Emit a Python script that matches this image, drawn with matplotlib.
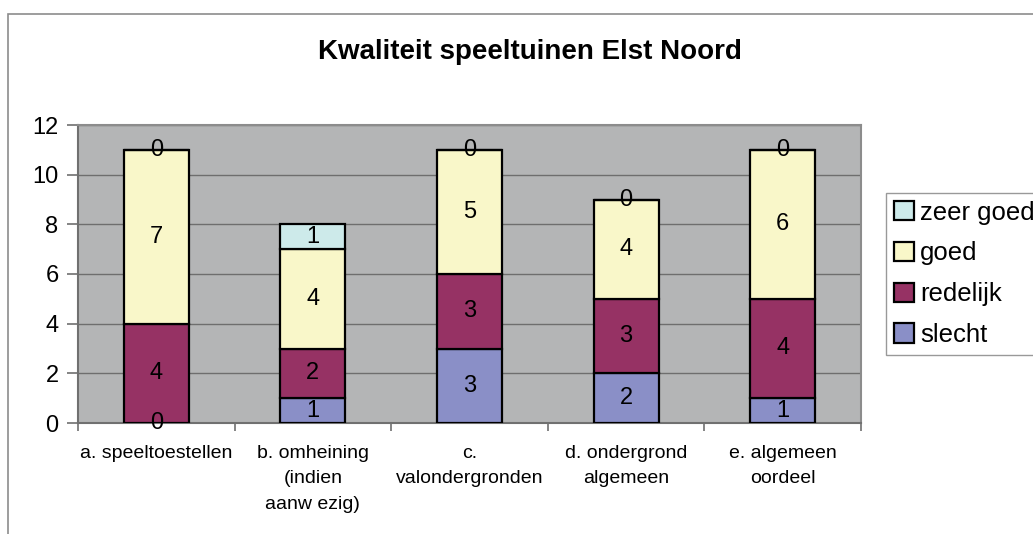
import numpy as np
import matplotlib
matplotlib.use("Agg")
import matplotlib.pyplot as plt
from matplotlib.patches import Rectangle

plt.rcParams['font.family'] = ['Liberation Sans', 'DejaVu Sans']

# data
categories = ['a. speeltoestellen', 'b. omheining\n(indien\naanw ezig)', 'c.\nvalondergronden',
              'd. ondergrond\nalgemeen', 'e. algemeen\noordeel']
slecht = [0, 1, 3, 2, 1]
redelijk = [4, 2, 3, 3, 4]
goed = [7, 4, 5, 4, 6]
zeer_goed = [0, 1, 0, 0, 0]

series = [('slecht', slecht, '#8a8fc7'),
          ('redelijk', redelijk, '#963264'),
          ('goed', goed, '#f9f7c9'),
          ('zeer goed', zeer_goed, '#cdeaea')]

fig = plt.figure(figsize=(10.33, 5.34), dpi=100)
fig.patch.set_facecolor('white')

# outer chart border
fig.patches.append(Rectangle((8/1033, -0.1), 1.2, (534-14)/534 + 0.1, transform=fig.transFigure,
                             fill=False, edgecolor='#8c8c8c', linewidth=1.2))

ax = fig.add_axes([78/1033, 1-423/534, (861-78)/1033, (423-125)/534])
ax.set_facecolor('#b4b5b6')

x = np.arange(len(categories))
bottom = np.zeros(len(categories))
handles = []
for name, vals, col in series:
    bars = ax.bar(x, vals, 0.415, bottom=bottom, color=col, edgecolor='black',
                  linewidth=1.6, label=name, zorder=3)
    ax.bar_label(bars, labels=[str(v) for v in vals], label_type='center',
                 fontsize=17, zorder=4)
    bottom += np.array(vals)
    handles.append(bars)

ax.set_xlim(-0.5, len(categories) - 0.5)
ax.set_ylim(0, 12)
ax.set_yticks(np.arange(0, 13, 2))
ax.yaxis.grid(True, color='#6e6e6e', linewidth=1.0, zorder=1)
ax.set_axisbelow(True)

ax.set_xticks(np.arange(-0.5, len(categories), 1.0))
ax.set_xticklabels([])
ax.set_xticks(x, minor=True)
ax.set_xticklabels(categories, minor=True, fontsize=14, linespacing=1.68, va='top')
ax.tick_params(axis='x', which='minor', length=0, pad=15.5)
ax.tick_params(axis='x', which='major', length=6, color='#707070', width=1.2)
ax.tick_params(axis='y', length=8, color='#707070', width=1.2, labelsize=17, pad=6)

for s in ['left', 'bottom']:
    ax.spines[s].set_color('#707070')
    ax.spines[s].set_linewidth(1.5)
for s in ['top', 'right']:
    ax.spines[s].set_color('#8c8c8c')
    ax.spines[s].set_linewidth(1.5)

fig.text(530/1033, 1-52/534, 'Kwaliteit speeltuinen Elst Noord', ha='center', va='center',
         fontsize=20, fontweight='bold')

leg = fig.legend(handles[::-1], [s[0] for s in series][::-1], loc='upper left',
                 bbox_to_anchor=(886/1033, 1-193/534), fontsize=18.5, frameon=True,
                 fancybox=False, edgecolor='#808080', handlelength=0.78, handleheight=0.78,
                 handletextpad=0.25, labelspacing=0.65, borderpad=0.3, borderaxespad=0)
leg.get_frame().set_linewidth(1.0)

fig.savefig('out.png', dpi=100)
